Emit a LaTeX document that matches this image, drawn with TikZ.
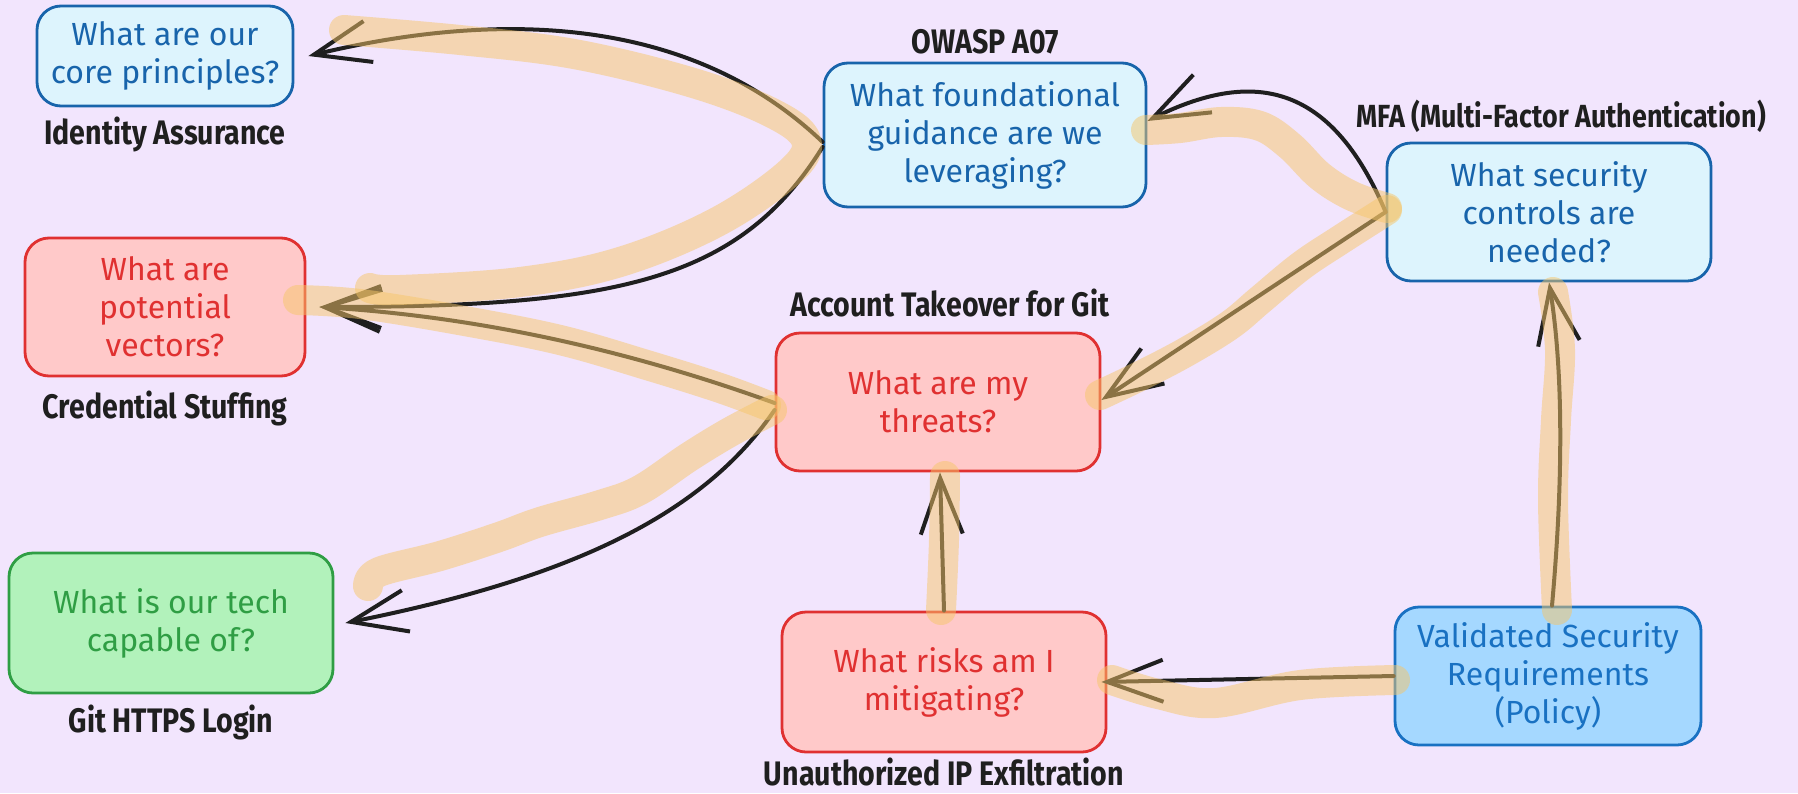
\documentclass[tikz,border=0pt]{standalone}
\usepackage{fontspec}
\setmainfont{Fira Sans}
\newfontfamily\handfont{Fira Sans}
\newfontfamily\lblfont[FakeStretch=0.84]{Fira Sans}
\usepackage{xcolor}
\usetikzlibrary{arrows.meta,positioning}

\definecolor{bgcol}{HTML}{F2E5FD}
\definecolor{lbfill}{HTML}{DDF4FD}
\definecolor{lbdraw}{HTML}{1864AB}
\definecolor{bbfill}{HTML}{A5D8FF}
\definecolor{bbdraw}{HTML}{1971C2}
\definecolor{rfill}{HTML}{FFC9C9}
\definecolor{rdraw}{HTML}{E03131}
\definecolor{gfill}{HTML}{B2F2BB}
\definecolor{gdraw}{HTML}{2F9E44}
\definecolor{hilite}{RGB}{246,198,105}

\begin{document}
\begin{tikzpicture}[
    x=0.5pt, y=-0.5pt,
    box/.style={rectangle, draw, rounded corners=12pt, line width=1.4pt, align=center, inner sep=0pt,
        font=\handfont\fontsize{16}{19}\selectfont},
    lightbox/.style={box, draw=lbdraw, fill=lbfill, text=lbdraw},
    policybox/.style={box, draw=bbdraw, fill=bbfill, text=bbdraw},
    redbox/.style={box, draw=rdraw, fill=rfill, text=rdraw},
    greenbox/.style={box, draw=gdraw, fill=gfill, text=gdraw},
    lbl/.style={font=\lblfont\bfseries\fontsize{17}{19}\selectfont, text=black!88, inner sep=0pt,
        text height=12.5pt, text depth=3pt},
    arrow/.style={-{Straight Barb[length=28pt,width=21pt]}, line width=2pt, line cap=round, draw=black!88},
    marker/.style={line width=15pt, line cap=round, line join=round, draw=hilite, opacity=0.5}
]

% Canvas
\fill[bgcol] (0,0) rectangle (1798,793);
\useasboundingbox (0,0) rectangle (1798,793);

% Left column
\node[lightbox, minimum width=128pt, minimum height=50pt] (core) at (165,56) {What are our\\core principles?};
\node[redbox, minimum width=140pt, minimum height=69pt] (vectors) at (165,307) {What are\\potential\\vectors?};
\node[greenbox, minimum width=162pt, minimum height=70pt] (tech) at (171,623) {What is our tech\\capable of?};

% Middle column
\node[lightbox, minimum width=161pt, minimum height=72pt] (guidance) at (985,135) {What foundational\\guidance are we\\leveraging?};
\node[redbox, minimum width=162pt, minimum height=69pt] (threats) at (938,402) {What are my\\threats?};
\node[redbox, minimum width=162pt, minimum height=70pt] (risks) at (944,682) {What risks am I\\mitigating?};

% Right column
\node[lightbox, minimum width=162pt, minimum height=69pt] (secctl) at (1549,212) {What security\\controls are\\needed?};
\node[policybox, minimum width=153pt, minimum height=69pt] (policy) at (1548,676) {Validated Security\\Requirements\\(Policy)};

% Labels
\node[lbl, below=6pt of core] (lcore) {Identity Assurance};
\node[lbl, below=8pt of vectors] (lvectors) {Credential Stuffing};
\node[lbl, below=6.5pt of tech] (ltech) {Git HTTPS Login};
\node[lbl, above=1pt of guidance] (lguidance) {OWASP A07};
\node[lbl, above=4.5pt of threats, xshift=6pt] (lthreats) {Account Takeover for Git};
\node[lbl, above=4pt of secctl, xshift=6pt, font=\lblfont\bfseries\fontsize{16}{19}\selectfont] (lsecctl) {MFA (Multi-Factor Authentication)};
\node[lbl, below=3.5pt of risks] (lrisks) {Unauthorized IP Exfiltration};

% Arrows
\draw[arrow] ([yshift=-3.5pt]guidance.west) .. controls (700,25) and (520,5) .. ([xshift=7pt]core.east);
\draw[arrow] ([yshift=-6pt]guidance.west) .. controls (740,280) and (620,307) .. ([xshift=6.5pt]vectors.east);
\draw[arrow] ([yshift=-0.5pt]threats.west) .. controls (600,340) and (450,315) .. ([xshift=6.5pt]vectors.east);
\draw[arrow] ([yshift=-4pt]threats.west) .. controls (700,520) and (560,580) .. ([xshift=5.5pt]tech.east);
\draw[arrow] (secctl.west) .. controls (1330,80) and (1250,70) .. ([yshift=7pt]guidance.east);
\draw[arrow] (secctl.west) -- ([yshift=1pt]threats.east);
\draw[arrow] (risks.north) -- ([xshift=1pt]threats.south);
\draw[arrow] (policy.west) -- ([xshift=-3pt]risks.east);
\draw[arrow] ([xshift=2pt]policy.north) .. controls (1566,450) and (1560,350) .. (secctl.south);

% Highlighter strokes
\draw[marker] plot[smooth, tension=0.6] coordinates {(344,30) (460,40) (574,54) (690,82) (770,112) (806,140) (790,172) (717,222) (620,262) (520,282) (400,290) (370,288)};
\draw[marker] plot[smooth, tension=0.6] coordinates {(298,300) (360,304) (459,320) (560,340) (650,366) (720,388) (766,405)};
\draw[marker] plot[smooth, tension=0.6] coordinates {(772,410) (730,432) (689,457) (640,490) (600,505) (540,522) (499,537) (440,556) (379,572) (368,586)};
\draw[marker] plot[smooth, tension=0.6] coordinates {(1146,130) (1180,128) (1221,122) (1260,126) (1290,146) (1320,176) (1352,196) (1387,208)};
\draw[marker] plot[smooth, tension=0.6] coordinates {(1387,210) (1340,240) (1301,266) (1260,300) (1230,325) (1186,352) (1140,376) (1100,395)};
\draw[marker] plot[smooth, tension=0.6] coordinates {(945,476) (944,540) (941,610)};
\draw[marker] plot[smooth, tension=0.6] coordinates {(1395,680) (1300,685) (1215,703) (1158,694) (1112,680)};
\draw[marker] plot[smooth, tension=0.6] coordinates {(1557,610) (1553,500) (1556,420) (1560,350) (1553,292)};

\end{tikzpicture}
\end{document}
